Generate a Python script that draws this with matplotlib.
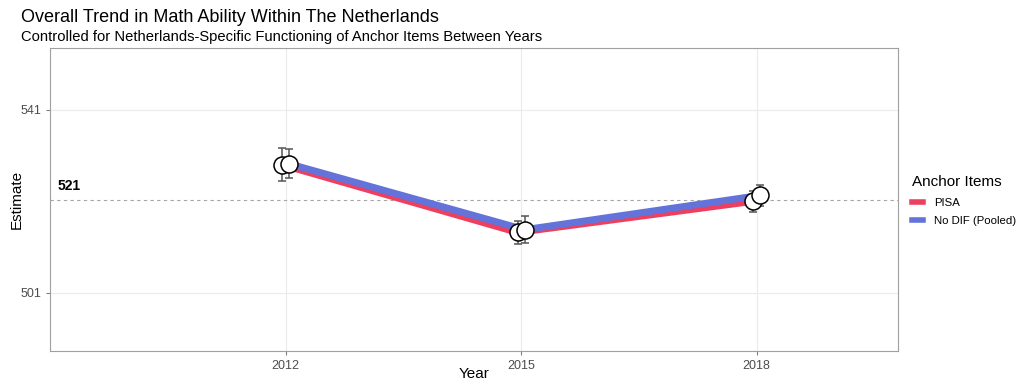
import matplotlib
matplotlib.use("Agg")
import matplotlib.pyplot as plt
from matplotlib.lines import Line2D
import numpy as np

plt.rcParams['font.family'] = ['Liberation Sans', 'DejaVu Sans']

years = [2012, 2015, 2018]
pisa_est = [529.0, 514.2, 521.0]
pisa_err = [3.6, 2.5, 2.3]
nodif_est = [529.2, 514.8, 522.3]
nodif_err = [3.2, 2.9, 2.3]
reference_value = 521.3
series_names = ["PISA", "No DIF (Pooled)"]
colors = ["#EE3F5E", "#6373DA"]
dodge = 0.045

fig = plt.figure(figsize=(10.19, 3.83), dpi=100)
ax = fig.add_axes([50/1019, 1 - 351/383, 848/1019, 303/383])

# grid
for y in [501, 541]:
    ax.axhline(y, color="#ebebeb", lw=0.8, zorder=0)
for x in years:
    ax.axvline(x, color="#ebebeb", lw=0.8, zorder=0)

ax.axhline(reference_value, color="#a6a6a6", lw=0.8, ls=(0, (3, 3)), zorder=1)
ax.text(2009.09, 524.3, f"{reference_value:.0f}", fontsize=10, fontweight="bold",
        va="center", ha="left", color="black")

xs_p = np.array(years) - dodge
xs_n = np.array(years) + dodge
ax.plot(xs_p, pisa_est, color=colors[0], lw=5, solid_capstyle="butt", zorder=2)
ax.plot(xs_n, nodif_est, color=colors[1], lw=5, solid_capstyle="butt", zorder=3)

for xs, est, err in [(xs_p, pisa_est, pisa_err), (xs_n, nodif_est, nodif_err)]:
    ax.errorbar(xs, est, yerr=err, fmt="none", ecolor="#555555", elinewidth=1.1,
                capsize=3, capthick=1.1, zorder=4)
    ax.scatter(xs, est, s=150, facecolor="white", edgecolor="black", linewidth=1.1, zorder=5)

ax.set_xlim(2009.0, 2019.8)
ax.set_ylim(488.3, 554.5)
ax.set_xticks(years)
ax.set_yticks([501, 541])
ax.tick_params(axis="both", colors="#808080", labelcolor="#4d4d4d", labelsize=9, length=3)
for s in ax.spines.values():
    s.set_color("#a0a0a0")
    s.set_linewidth(0.8)

ax.set_xlabel("Year", fontsize=11, va="center")
ax.set_ylabel("Estimate", fontsize=11, va="center")
ax.xaxis.set_label_coords(0.5, -(374 - 351) / 303)
ax.yaxis.set_label_coords(-(50 - 17) / 848, 0.5)

fig.text(21/1019, 1 - 17/383, "Overall Trend in Math Ability Within The Netherlands",
         fontsize=13, va="center", ha="left")
fig.text(21/1019, 1 - 37/383, "Controlled for Netherlands-Specific Functioning of Anchor Items Between Years",
         fontsize=10.6, va="center", ha="left")

handles = [Line2D([0], [0], color=c, lw=4) for c in colors]
leg = fig.legend(handles, series_names, title="Anchor Items", loc="upper left",
                 bbox_to_anchor=(912/1019, 1 - 175/383), frameon=False, fontsize=8.2,
                 title_fontsize=11, handlelength=1.0, handletextpad=0.9, labelspacing=0.75,
                 borderaxespad=0, borderpad=0)
leg._legend_box.align = "left"

fig.savefig("out.png", dpi=100)
